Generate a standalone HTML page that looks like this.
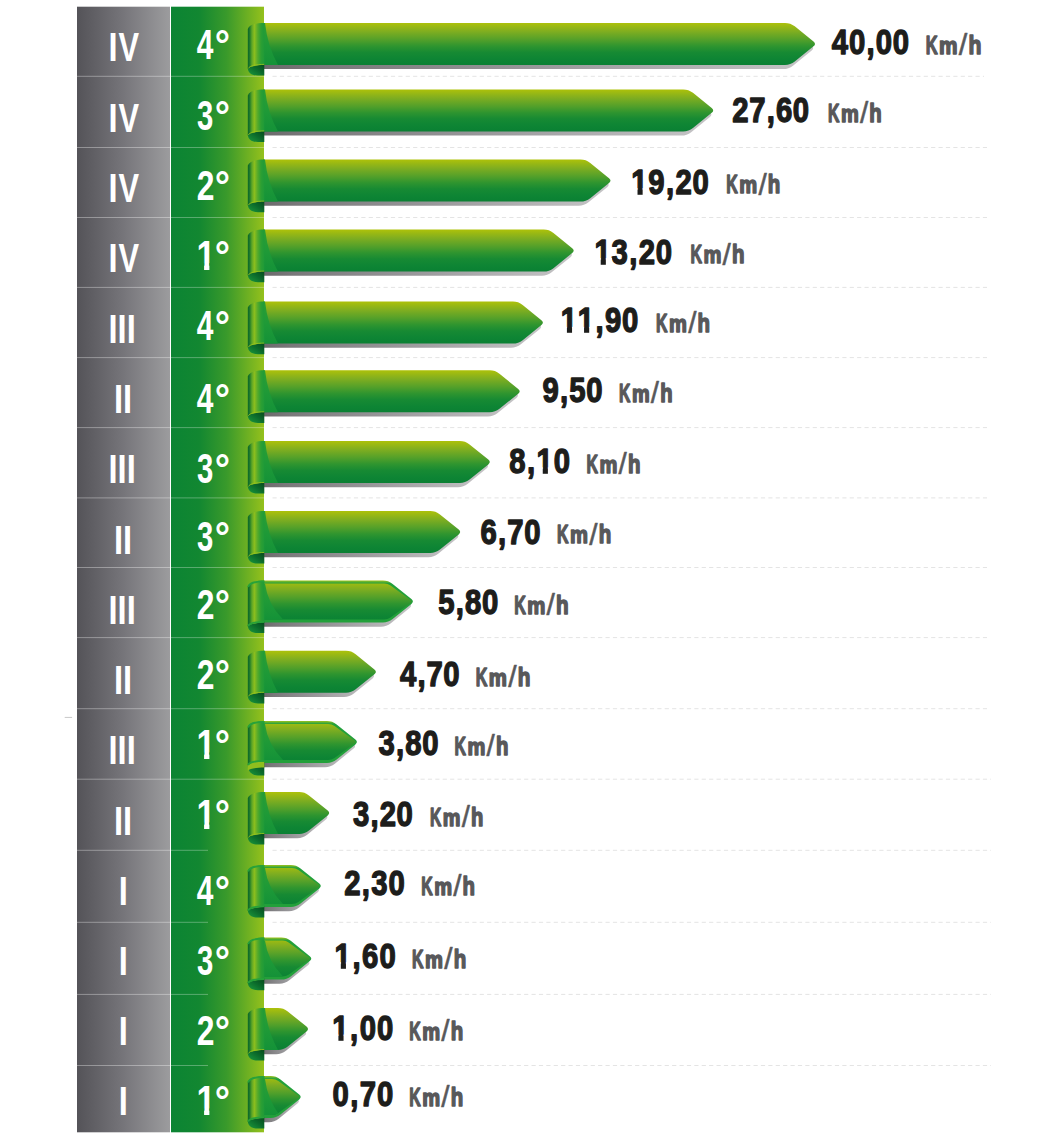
<!DOCTYPE html>
<html><head><meta charset="utf-8"><title>Velocità trattore</title>
<style>
html,body{margin:0;padding:0;background:#fff;}
body{width:1046px;height:1141px;overflow:hidden;}
svg{display:block;}
text{font-family:"Liberation Sans",Arial,sans-serif;font-weight:bold;}
</style></head><body>
<svg width="1046" height="1141" viewBox="0 0 1046 1141">
<defs>
<linearGradient id="gGray" gradientUnits="userSpaceOnUse" x1="77" x2="170" y1="0" y2="0">
<stop offset="0" stop-color="#545358"/><stop offset="0.5" stop-color="#76757a"/><stop offset="1" stop-color="#9c9c9e"/>
</linearGradient>
<linearGradient id="gGreen" gradientUnits="userSpaceOnUse" x1="171" x2="264" y1="0" y2="0">
<stop offset="0" stop-color="#0b8433"/><stop offset="0.3" stop-color="#128731"/><stop offset="0.6" stop-color="#3a9a2b"/><stop offset="1" stop-color="#95c11c"/>
</linearGradient>
<linearGradient id="gCurl" x1="0" x2="1" y1="0" y2="0">
<stop offset="0" stop-color="#0a6428"/><stop offset="0.12" stop-color="#1f7d2a"/><stop offset="0.25" stop-color="#5ea626"/><stop offset="0.4" stop-color="#8cbe1e"/><stop offset="0.6" stop-color="#55aa2b"/><stop offset="0.8" stop-color="#2c9f33"/><stop offset="1" stop-color="#1f9a38"/>
</linearGradient>
<linearGradient id="gRoll" x1="1" x2="0" y1="0" y2="1">
<stop offset="0" stop-color="#06481c"/><stop offset="0.45" stop-color="#0b6a2b"/><stop offset="1" stop-color="#1b9b3c"/>
</linearGradient>
<linearGradient id="gFold" x1="0" x2="0" y1="0" y2="1">
<stop offset="0" stop-color="#2c9f33"/><stop offset="0.5" stop-color="#1f9a37"/><stop offset="1" stop-color="#149238"/>
</linearGradient>
<linearGradient id="gShadow" x1="0" x2="1" y1="0" y2="0">
<stop offset="0" stop-color="#6b696b"/><stop offset="0.1" stop-color="#79787a"/><stop offset="0.45" stop-color="#959497"/><stop offset="1" stop-color="#c6c5c7"/>
</linearGradient>
</defs>

<rect x="64.7" y="716.9" width="7.4" height="1" fill="#c8c8c8"/>
<rect x="77" y="6.7" width="93" height="1125.6" fill="url(#gGray)"/>
<rect x="171" y="6.7" width="93" height="1125.6" fill="url(#gGreen)"/>
<rect x="77" y="75.8" width="93" height="1" fill="#fff" fill-opacity="0.35"/>
<rect x="171" y="75.8" width="93" height="1" fill="#fff" fill-opacity="0.3"/>
<line x1="272.5" x2="984" y1="76.3" y2="76.3" stroke="#e4e4e4" stroke-width="1" stroke-dasharray="4.2 3.2"/>
<rect x="77" y="147.0" width="93" height="1" fill="#fff" fill-opacity="0.35"/>
<rect x="171" y="147.0" width="93" height="1" fill="#fff" fill-opacity="0.3"/>
<line x1="272.5" x2="987" y1="147.5" y2="147.5" stroke="#e4e4e4" stroke-width="1" stroke-dasharray="4.2 3.2"/>
<rect x="77" y="217.0" width="93" height="1" fill="#fff" fill-opacity="0.35"/>
<rect x="171" y="217.0" width="93" height="1" fill="#fff" fill-opacity="0.3"/>
<line x1="272.5" x2="987" y1="217.5" y2="217.5" stroke="#e4e4e4" stroke-width="1" stroke-dasharray="4.2 3.2"/>
<rect x="77" y="286.9" width="93" height="1" fill="#fff" fill-opacity="0.35"/>
<rect x="171" y="286.9" width="93" height="1" fill="#fff" fill-opacity="0.3"/>
<line x1="272.5" x2="987" y1="287.4" y2="287.4" stroke="#e4e4e4" stroke-width="1" stroke-dasharray="4.2 3.2"/>
<rect x="77" y="357.1" width="93" height="1" fill="#fff" fill-opacity="0.35"/>
<rect x="171" y="357.1" width="93" height="1" fill="#fff" fill-opacity="0.3"/>
<line x1="272.5" x2="987" y1="357.6" y2="357.6" stroke="#e4e4e4" stroke-width="1" stroke-dasharray="4.2 3.2"/>
<rect x="77" y="427.1" width="93" height="1" fill="#fff" fill-opacity="0.35"/>
<rect x="171" y="427.1" width="93" height="1" fill="#fff" fill-opacity="0.3"/>
<line x1="272.5" x2="987" y1="427.6" y2="427.6" stroke="#e4e4e4" stroke-width="1" stroke-dasharray="4.2 3.2"/>
<rect x="77" y="497.4" width="93" height="1" fill="#fff" fill-opacity="0.35"/>
<rect x="171" y="497.4" width="93" height="1" fill="#fff" fill-opacity="0.3"/>
<line x1="272.5" x2="987" y1="497.9" y2="497.9" stroke="#e4e4e4" stroke-width="1" stroke-dasharray="4.2 3.2"/>
<rect x="77" y="567.0" width="93" height="1" fill="#fff" fill-opacity="0.35"/>
<rect x="171" y="567.0" width="93" height="1" fill="#fff" fill-opacity="0.3"/>
<line x1="272.5" x2="987" y1="567.5" y2="567.5" stroke="#e4e4e4" stroke-width="1" stroke-dasharray="4.2 3.2"/>
<rect x="77" y="637.1" width="93" height="1" fill="#fff" fill-opacity="0.35"/>
<rect x="171" y="637.1" width="93" height="1" fill="#fff" fill-opacity="0.3"/>
<line x1="272.5" x2="987" y1="637.6" y2="637.6" stroke="#e4e4e4" stroke-width="1" stroke-dasharray="4.2 3.2"/>
<rect x="77" y="708.2" width="93" height="1" fill="#fff" fill-opacity="0.35"/>
<rect x="171" y="708.2" width="93" height="1" fill="#fff" fill-opacity="0.3"/>
<line x1="272.5" x2="987" y1="708.7" y2="708.7" stroke="#e4e4e4" stroke-width="1" stroke-dasharray="4.2 3.2"/>
<rect x="77" y="778.7" width="93" height="1" fill="#fff" fill-opacity="0.35"/>
<rect x="171" y="778.7" width="93" height="1" fill="#fff" fill-opacity="0.3"/>
<line x1="272.5" x2="991" y1="779.2" y2="779.2" stroke="#e4e4e4" stroke-width="1" stroke-dasharray="4.2 3.2"/>
<rect x="77" y="849.8" width="93" height="1" fill="#fff" fill-opacity="0.35"/>
<rect x="171" y="849.8" width="37" height="1" fill="#fff" fill-opacity="0.3"/>
<line x1="272.5" x2="991" y1="850.3" y2="850.3" stroke="#e4e4e4" stroke-width="1" stroke-dasharray="4.2 3.2"/>
<rect x="77" y="921.8" width="93" height="1" fill="#fff" fill-opacity="0.35"/>
<rect x="171" y="921.8" width="37" height="1" fill="#fff" fill-opacity="0.3"/>
<line x1="272.5" x2="991" y1="922.3" y2="922.3" stroke="#e4e4e4" stroke-width="1" stroke-dasharray="4.2 3.2"/>
<rect x="77" y="993.9" width="93" height="1" fill="#fff" fill-opacity="0.35"/>
<rect x="171" y="993.9" width="37" height="1" fill="#fff" fill-opacity="0.3"/>
<line x1="272.5" x2="991" y1="994.4" y2="994.4" stroke="#e4e4e4" stroke-width="1" stroke-dasharray="4.2 3.2"/>
<rect x="77" y="1065.0" width="93" height="1" fill="#fff" fill-opacity="0.35"/>
<rect x="171" y="1065.0" width="37" height="1" fill="#fff" fill-opacity="0.3"/>
<line x1="272.5" x2="991" y1="1065.5" y2="1065.5" stroke="#e4e4e4" stroke-width="1" stroke-dasharray="4.2 3.2"/>
<path d="M262.00,27.10 L783.18,27.10 Q788.68,27.10 792.96,30.56 L811.72,45.71 Q814.68,48.10 811.72,50.49 L792.96,65.64 Q788.68,69.10 783.18,69.10 L262.00,69.10 Z" fill="url(#gShadow)"/>
<linearGradient id="gb0" x1="0" x2="0" y1="22.90" y2="64.90" gradientUnits="userSpaceOnUse"><stop offset="0" stop-color="#adc10a"/><stop offset="0.2" stop-color="#80ae20"/><stop offset="0.4" stop-color="#53a02a"/><stop offset="0.55" stop-color="#2f952f"/><stop offset="0.7" stop-color="#178a33"/><stop offset="0.85" stop-color="#0e8534"/><stop offset="1" stop-color="#0a8033"/></linearGradient>
<path d="M262.00,22.90 L784.98,22.90 Q790.48,22.90 794.76,26.36 L813.52,41.51 Q816.48,43.90 813.52,46.29 L794.76,61.44 Q790.48,64.90 784.98,64.90 L262.00,64.90 Z" fill="url(#gb0)"/>
<path d="M263,22.90 L265,22.90 Q267.50,46.00 278.00,64.90 L263,64.90 Z" fill="url(#gFold)"/>
<path d="M247.8,67.40 C247.8,73.40 252.30,75.50 257.80,75.50 L264.3,75.50 L264.3,63.90 Z" fill="url(#gRoll)"/>
<path d="M264.3,22.90 C256,22.90 249.30,24.40 247.8,28.90 L247.8,68.90 C249.80,66.10 256,64.90 264.3,64.90 Z" fill="url(#gCurl)"/>
<path d="M248.30,68.40 C249.80,65.60 256,64.40 264.3,64.40" fill="none" stroke="#9cc41a" stroke-width="1" stroke-opacity="0.8"/>
<path d="M262.00,93.60 L681.38,93.60 Q686.88,93.60 691.16,97.06 L709.92,112.21 Q712.88,114.60 709.92,116.99 L691.16,132.14 Q686.88,135.60 681.38,135.60 L262.00,135.60 Z" fill="url(#gShadow)"/>
<linearGradient id="gb1" x1="0" x2="0" y1="89.40" y2="131.40" gradientUnits="userSpaceOnUse"><stop offset="0" stop-color="#adc10a"/><stop offset="0.2" stop-color="#80ae20"/><stop offset="0.4" stop-color="#53a02a"/><stop offset="0.55" stop-color="#2f952f"/><stop offset="0.7" stop-color="#178a33"/><stop offset="0.85" stop-color="#0e8534"/><stop offset="1" stop-color="#0a8033"/></linearGradient>
<path d="M262.00,89.40 L683.18,89.40 Q688.68,89.40 692.96,92.86 L711.72,108.01 Q714.68,110.40 711.72,112.79 L692.96,127.94 Q688.68,131.40 683.18,131.40 L262.00,131.40 Z" fill="url(#gb1)"/>
<path d="M263,89.40 L265,89.40 Q267.50,112.50 278.00,131.40 L263,131.40 Z" fill="url(#gFold)"/>
<path d="M247.8,133.90 C247.8,139.90 252.30,142.00 257.80,142.00 L264.3,142.00 L264.3,130.40 Z" fill="url(#gRoll)"/>
<path d="M264.3,89.40 C256,89.40 249.30,90.90 247.8,95.40 L247.8,135.40 C249.80,132.60 256,131.40 264.3,131.40 Z" fill="url(#gCurl)"/>
<path d="M248.30,134.90 C249.80,132.10 256,130.90 264.3,130.90" fill="none" stroke="#9cc41a" stroke-width="1" stroke-opacity="0.8"/>
<path d="M262.00,163.80 L578.68,163.80 Q584.18,163.80 588.46,167.26 L607.22,182.41 Q610.18,184.80 607.22,187.19 L588.46,202.34 Q584.18,205.80 578.68,205.80 L262.00,205.80 Z" fill="url(#gShadow)"/>
<linearGradient id="gb2" x1="0" x2="0" y1="159.60" y2="201.60" gradientUnits="userSpaceOnUse"><stop offset="0" stop-color="#adc10a"/><stop offset="0.2" stop-color="#80ae20"/><stop offset="0.4" stop-color="#53a02a"/><stop offset="0.55" stop-color="#2f952f"/><stop offset="0.7" stop-color="#178a33"/><stop offset="0.85" stop-color="#0e8534"/><stop offset="1" stop-color="#0a8033"/></linearGradient>
<path d="M262.00,159.60 L580.48,159.60 Q585.98,159.60 590.26,163.06 L609.02,178.21 Q611.98,180.60 609.02,182.99 L590.26,198.14 Q585.98,201.60 580.48,201.60 L262.00,201.60 Z" fill="url(#gb2)"/>
<path d="M263,159.60 L265,159.60 Q267.50,182.70 278.00,201.60 L263,201.60 Z" fill="url(#gFold)"/>
<path d="M247.8,204.10 C247.8,210.10 252.30,212.20 257.80,212.20 L264.3,212.20 L264.3,200.60 Z" fill="url(#gRoll)"/>
<path d="M264.3,159.60 C256,159.60 249.30,161.10 247.8,165.60 L247.8,205.60 C249.80,202.80 256,201.60 264.3,201.60 Z" fill="url(#gCurl)"/>
<path d="M248.30,205.10 C249.80,202.30 256,201.10 264.3,201.10" fill="none" stroke="#9cc41a" stroke-width="1" stroke-opacity="0.8"/>
<path d="M262.00,233.80 L541.88,233.80 Q547.38,233.80 551.66,237.26 L570.42,252.41 Q573.38,254.80 570.42,257.19 L551.66,272.34 Q547.38,275.80 541.88,275.80 L262.00,275.80 Z" fill="url(#gShadow)"/>
<linearGradient id="gb3" x1="0" x2="0" y1="229.60" y2="271.60" gradientUnits="userSpaceOnUse"><stop offset="0" stop-color="#adc10a"/><stop offset="0.2" stop-color="#80ae20"/><stop offset="0.4" stop-color="#53a02a"/><stop offset="0.55" stop-color="#2f952f"/><stop offset="0.7" stop-color="#178a33"/><stop offset="0.85" stop-color="#0e8534"/><stop offset="1" stop-color="#0a8033"/></linearGradient>
<path d="M262.00,229.60 L543.68,229.60 Q549.18,229.60 553.46,233.06 L572.22,248.21 Q575.18,250.60 572.22,252.99 L553.46,268.14 Q549.18,271.60 543.68,271.60 L262.00,271.60 Z" fill="url(#gb3)"/>
<path d="M263,229.60 L265,229.60 Q267.50,252.70 278.00,271.60 L263,271.60 Z" fill="url(#gFold)"/>
<path d="M247.8,274.10 C247.8,280.10 252.30,282.20 257.80,282.20 L264.3,282.20 L264.3,270.60 Z" fill="url(#gRoll)"/>
<path d="M264.3,229.60 C256,229.60 249.30,231.10 247.8,235.60 L247.8,275.60 C249.80,272.80 256,271.60 264.3,271.60 Z" fill="url(#gCurl)"/>
<path d="M248.30,275.10 C249.80,272.30 256,271.10 264.3,271.10" fill="none" stroke="#9cc41a" stroke-width="1" stroke-opacity="0.8"/>
<path d="M262.00,305.80 L511.08,305.80 Q516.58,305.80 520.86,309.26 L539.62,324.41 Q542.58,326.80 539.62,329.19 L520.86,344.34 Q516.58,347.80 511.08,347.80 L262.00,347.80 Z" fill="url(#gShadow)"/>
<linearGradient id="gb4" x1="0" x2="0" y1="301.60" y2="343.60" gradientUnits="userSpaceOnUse"><stop offset="0" stop-color="#adc10a"/><stop offset="0.2" stop-color="#80ae20"/><stop offset="0.4" stop-color="#53a02a"/><stop offset="0.55" stop-color="#2f952f"/><stop offset="0.7" stop-color="#178a33"/><stop offset="0.85" stop-color="#0e8534"/><stop offset="1" stop-color="#0a8033"/></linearGradient>
<path d="M262.00,301.60 L512.88,301.60 Q518.38,301.60 522.66,305.06 L541.42,320.21 Q544.38,322.60 541.42,324.99 L522.66,340.14 Q518.38,343.60 512.88,343.60 L262.00,343.60 Z" fill="url(#gb4)"/>
<path d="M263,301.60 L265,301.60 Q267.50,324.70 278.00,343.60 L263,343.60 Z" fill="url(#gFold)"/>
<path d="M247.8,346.10 C247.8,352.10 252.30,354.20 257.80,354.20 L264.3,354.20 L264.3,342.60 Z" fill="url(#gRoll)"/>
<path d="M264.3,301.60 C256,301.60 249.30,303.10 247.8,307.60 L247.8,347.60 C249.80,344.80 256,343.60 264.3,343.60 Z" fill="url(#gCurl)"/>
<path d="M248.30,347.10 C249.80,344.30 256,343.10 264.3,343.10" fill="none" stroke="#9cc41a" stroke-width="1" stroke-opacity="0.8"/>
<path d="M262.00,374.50 L487.88,374.50 Q493.38,374.50 497.66,377.96 L516.42,393.11 Q519.38,395.50 516.42,397.89 L497.66,413.04 Q493.38,416.50 487.88,416.50 L262.00,416.50 Z" fill="url(#gShadow)"/>
<linearGradient id="gb5" x1="0" x2="0" y1="370.30" y2="412.30" gradientUnits="userSpaceOnUse"><stop offset="0" stop-color="#adc10a"/><stop offset="0.2" stop-color="#80ae20"/><stop offset="0.4" stop-color="#53a02a"/><stop offset="0.55" stop-color="#2f952f"/><stop offset="0.7" stop-color="#178a33"/><stop offset="0.85" stop-color="#0e8534"/><stop offset="1" stop-color="#0a8033"/></linearGradient>
<path d="M262.00,370.30 L489.68,370.30 Q495.18,370.30 499.46,373.76 L518.22,388.91 Q521.18,391.30 518.22,393.69 L499.46,408.84 Q495.18,412.30 489.68,412.30 L262.00,412.30 Z" fill="url(#gb5)"/>
<path d="M263,370.30 L265,370.30 Q267.50,393.40 278.00,412.30 L263,412.30 Z" fill="url(#gFold)"/>
<path d="M247.8,414.80 C247.8,420.80 252.30,422.90 257.80,422.90 L264.3,422.90 L264.3,411.30 Z" fill="url(#gRoll)"/>
<path d="M264.3,370.30 C256,370.30 249.30,371.80 247.8,376.30 L247.8,416.30 C249.80,413.50 256,412.30 264.3,412.30 Z" fill="url(#gCurl)"/>
<path d="M248.30,415.80 C249.80,413.00 256,411.80 264.3,411.80" fill="none" stroke="#9cc41a" stroke-width="1" stroke-opacity="0.8"/>
<path d="M262.00,445.20 L457.98,445.20 Q463.48,445.20 467.76,448.66 L486.52,463.81 Q489.48,466.20 486.52,468.59 L467.76,483.74 Q463.48,487.20 457.98,487.20 L262.00,487.20 Z" fill="url(#gShadow)"/>
<linearGradient id="gb6" x1="0" x2="0" y1="441.00" y2="483.00" gradientUnits="userSpaceOnUse"><stop offset="0" stop-color="#adc10a"/><stop offset="0.2" stop-color="#80ae20"/><stop offset="0.4" stop-color="#53a02a"/><stop offset="0.55" stop-color="#2f952f"/><stop offset="0.7" stop-color="#178a33"/><stop offset="0.85" stop-color="#0e8534"/><stop offset="1" stop-color="#0a8033"/></linearGradient>
<path d="M262.00,441.00 L459.78,441.00 Q465.28,441.00 469.56,444.46 L488.32,459.61 Q491.28,462.00 488.32,464.39 L469.56,479.54 Q465.28,483.00 459.78,483.00 L262.00,483.00 Z" fill="url(#gb6)"/>
<path d="M263,441.00 L265,441.00 Q267.50,464.10 278.00,483.00 L263,483.00 Z" fill="url(#gFold)"/>
<path d="M247.8,485.50 C247.8,491.50 252.30,493.60 257.80,493.60 L264.3,493.60 L264.3,482.00 Z" fill="url(#gRoll)"/>
<path d="M264.3,441.00 C256,441.00 249.30,442.50 247.8,447.00 L247.8,487.00 C249.80,484.20 256,483.00 264.3,483.00 Z" fill="url(#gCurl)"/>
<path d="M248.30,486.50 C249.80,483.70 256,482.50 264.3,482.50" fill="none" stroke="#9cc41a" stroke-width="1" stroke-opacity="0.8"/>
<path d="M262.00,515.20 L428.38,515.20 Q433.88,515.20 438.16,518.66 L456.92,533.81 Q459.88,536.20 456.92,538.59 L438.16,553.74 Q433.88,557.20 428.38,557.20 L262.00,557.20 Z" fill="url(#gShadow)"/>
<linearGradient id="gb7" x1="0" x2="0" y1="511.00" y2="553.00" gradientUnits="userSpaceOnUse"><stop offset="0" stop-color="#adc10a"/><stop offset="0.2" stop-color="#80ae20"/><stop offset="0.4" stop-color="#53a02a"/><stop offset="0.55" stop-color="#2f952f"/><stop offset="0.7" stop-color="#178a33"/><stop offset="0.85" stop-color="#0e8534"/><stop offset="1" stop-color="#0a8033"/></linearGradient>
<path d="M262.00,511.00 L430.18,511.00 Q435.68,511.00 439.96,514.46 L458.72,529.61 Q461.68,532.00 458.72,534.39 L439.96,549.54 Q435.68,553.00 430.18,553.00 L262.00,553.00 Z" fill="url(#gb7)"/>
<path d="M263,511.00 L265,511.00 Q267.50,534.10 278.00,553.00 L263,553.00 Z" fill="url(#gFold)"/>
<path d="M247.8,555.50 C247.8,561.50 252.30,563.60 257.80,563.60 L264.3,563.60 L264.3,552.00 Z" fill="url(#gRoll)"/>
<path d="M264.3,511.00 C256,511.00 249.30,512.50 247.8,517.00 L247.8,557.00 C249.80,554.20 256,553.00 264.3,553.00 Z" fill="url(#gCurl)"/>
<path d="M248.30,556.50 C249.80,553.70 256,552.50 264.3,552.50" fill="none" stroke="#9cc41a" stroke-width="1" stroke-opacity="0.8"/>
<path d="M262.00,584.70 L381.08,584.70 Q386.58,584.70 390.86,588.16 L409.62,603.31 Q412.58,605.70 409.62,608.09 L390.86,623.24 Q386.58,626.70 381.08,626.70 L262.00,626.70 Z" fill="url(#gShadow)"/>
<linearGradient id="gb8" x1="0" x2="0" y1="580.50" y2="622.50" gradientUnits="userSpaceOnUse"><stop offset="0" stop-color="#adc10a"/><stop offset="0.2" stop-color="#80ae20"/><stop offset="0.4" stop-color="#53a02a"/><stop offset="0.55" stop-color="#2f952f"/><stop offset="0.7" stop-color="#178a33"/><stop offset="0.85" stop-color="#0e8534"/><stop offset="1" stop-color="#0a8033"/></linearGradient>
<path d="M262.00,580.50 L382.88,580.50 Q388.38,580.50 392.66,583.96 L411.42,599.11 Q414.38,601.50 411.42,603.89 L392.66,619.04 Q388.38,622.50 382.88,622.50 L262.00,622.50 Z" fill="url(#gStroke8)"/>
<linearGradient id="gStroke8" x1="0" x2="0" y1="580.50" y2="622.50" gradientUnits="userSpaceOnUse"><stop offset="0" stop-color="#9ec31a"/><stop offset="0.035" stop-color="#5cb032"/><stop offset="0.07" stop-color="#22a03a"/><stop offset="1" stop-color="#22a03a"/></linearGradient>
<path d="M262.00,583.50 L384.21,583.50 Q387.71,583.50 390.54,585.56 L410.89,600.33 Q412.51,601.50 410.89,602.67 L390.54,617.44 Q387.71,619.50 384.21,619.50 L262.00,619.50 Z" fill="url(#gb8)"/>
<clipPath id="cb8"><path d="M262.00,583.50 L384.21,583.50 Q387.71,583.50 390.54,585.56 L410.89,600.33 Q412.51,601.50 410.89,602.67 L390.54,617.44 Q387.71,619.50 384.21,619.50 L262.00,619.50 Z"/></clipPath>
<path d="M263,583.50 L265,583.50 Q267.50,603.60 283.00,619.50 L263,619.50 Z" fill="url(#gFold)" clip-path="url(#cb8)"/>
<path d="M247.8,625.00 C247.8,631.00 252.30,633.10 257.80,633.10 L264.3,633.10 L264.3,621.50 Z" fill="url(#gRoll)"/>
<path d="M264.3,580.50 C256,580.50 249.30,582.00 247.8,586.50 L247.8,626.50 C249.80,623.70 256,622.50 264.3,622.50 Z" fill="url(#gCurl)"/>
<path d="M264.3,581.40 C256,581.40 249.30,582.90 248.10,587.00" fill="none" stroke="#27a23a" stroke-width="1.9"/>
<path d="M248.10,625.90 C249.80,623.10 256,621.90 264.3,621.90" fill="none" stroke="#27a23a" stroke-width="1.9"/>
<path d="M262.00,655.00 L344.08,655.00 Q349.58,655.00 353.86,658.46 L372.62,673.61 Q375.58,676.00 372.62,678.39 L353.86,693.54 Q349.58,697.00 344.08,697.00 L262.00,697.00 Z" fill="url(#gShadow)"/>
<linearGradient id="gb9" x1="0" x2="0" y1="650.80" y2="692.80" gradientUnits="userSpaceOnUse"><stop offset="0" stop-color="#adc10a"/><stop offset="0.2" stop-color="#80ae20"/><stop offset="0.4" stop-color="#53a02a"/><stop offset="0.55" stop-color="#2f952f"/><stop offset="0.7" stop-color="#178a33"/><stop offset="0.85" stop-color="#0e8534"/><stop offset="1" stop-color="#0a8033"/></linearGradient>
<path d="M262.00,650.80 L345.88,650.80 Q351.38,650.80 355.66,654.26 L374.42,669.41 Q377.38,671.80 374.42,674.19 L355.66,689.34 Q351.38,692.80 345.88,692.80 L262.00,692.80 Z" fill="url(#gb9)"/>
<path d="M263,650.80 L265,650.80 Q267.50,673.90 278.00,692.80 L263,692.80 Z" fill="url(#gFold)"/>
<path d="M247.8,695.30 C247.8,701.30 252.30,703.40 257.80,703.40 L264.3,703.40 L264.3,691.80 Z" fill="url(#gRoll)"/>
<path d="M264.3,650.80 C256,650.80 249.30,652.30 247.8,656.80 L247.8,696.80 C249.80,694.00 256,692.80 264.3,692.80 Z" fill="url(#gCurl)"/>
<path d="M248.30,696.30 C249.80,693.50 256,692.30 264.3,692.30" fill="none" stroke="#9cc41a" stroke-width="1" stroke-opacity="0.8"/>
<path d="M262.00,725.20 L325.08,725.20 Q330.58,725.20 334.86,728.66 L353.62,743.81 Q356.58,746.20 353.62,748.59 L334.86,763.74 Q330.58,767.20 325.08,767.20 L262.00,767.20 Z" fill="url(#gShadow)"/>
<linearGradient id="gb10" x1="0" x2="0" y1="721.00" y2="763.00" gradientUnits="userSpaceOnUse"><stop offset="0" stop-color="#adc10a"/><stop offset="0.2" stop-color="#80ae20"/><stop offset="0.4" stop-color="#53a02a"/><stop offset="0.55" stop-color="#2f952f"/><stop offset="0.7" stop-color="#178a33"/><stop offset="0.85" stop-color="#0e8534"/><stop offset="1" stop-color="#0a8033"/></linearGradient>
<path d="M262.00,721.00 L326.88,721.00 Q332.38,721.00 336.66,724.46 L355.42,739.61 Q358.38,742.00 355.42,744.39 L336.66,759.54 Q332.38,763.00 326.88,763.00 L262.00,763.00 Z" fill="url(#gStroke10)"/>
<linearGradient id="gStroke10" x1="0" x2="0" y1="721.00" y2="763.00" gradientUnits="userSpaceOnUse"><stop offset="0" stop-color="#9ec31a"/><stop offset="0.035" stop-color="#5cb032"/><stop offset="0.07" stop-color="#22a03a"/><stop offset="1" stop-color="#22a03a"/></linearGradient>
<path d="M262.00,724.00 L328.21,724.00 Q331.71,724.00 334.54,726.06 L354.89,740.83 Q356.51,742.00 354.89,743.17 L334.54,757.94 Q331.71,760.00 328.21,760.00 L262.00,760.00 Z" fill="url(#gb10)"/>
<clipPath id="cb10"><path d="M262.00,724.00 L328.21,724.00 Q331.71,724.00 334.54,726.06 L354.89,740.83 Q356.51,742.00 354.89,743.17 L334.54,757.94 Q331.71,760.00 328.21,760.00 L262.00,760.00 Z"/></clipPath>
<path d="M263,724.00 L265,724.00 Q267.50,744.10 283.00,760.00 L263,760.00 Z" fill="url(#gFold)" clip-path="url(#cb10)"/>
<path d="M247.8,765.50 C247.8,771.50 252.30,775.50 257.80,775.50 L264.3,775.50 L264.3,762.00 Z" fill="url(#gRoll)"/>
<path d="M247.8,765.00 C249.80,762.00 256,761.50 264.3,761.50 L264.3,767.50 C256,767.50 249.80,768.50 247.8,770.50 Z" fill="#8fbe1e"/>
<path d="M264.3,721.00 C256,721.00 249.30,722.50 247.8,727.00 L247.8,765.50 C249.80,762.70 256,761.50 264.3,761.50 Z" fill="url(#gCurl)"/>
<path d="M264.3,721.90 C256,721.90 249.30,723.40 248.10,727.50" fill="none" stroke="#27a23a" stroke-width="1.9"/>
<path d="M248.10,764.90 C249.80,762.10 256,760.90 264.3,760.90" fill="none" stroke="#27a23a" stroke-width="1.9"/>
<path d="M262.00,796.20 L297.38,796.20 Q302.88,796.20 307.16,799.66 L325.92,814.81 Q328.88,817.20 325.92,819.59 L307.16,834.74 Q302.88,838.20 297.38,838.20 L262.00,838.20 Z" fill="url(#gShadow)"/>
<linearGradient id="gb11" x1="0" x2="0" y1="792.00" y2="834.00" gradientUnits="userSpaceOnUse"><stop offset="0" stop-color="#adc10a"/><stop offset="0.2" stop-color="#80ae20"/><stop offset="0.4" stop-color="#53a02a"/><stop offset="0.55" stop-color="#2f952f"/><stop offset="0.7" stop-color="#178a33"/><stop offset="0.85" stop-color="#0e8534"/><stop offset="1" stop-color="#0a8033"/></linearGradient>
<path d="M262.00,792.00 L299.18,792.00 Q304.68,792.00 308.96,795.46 L327.72,810.61 Q330.68,813.00 327.72,815.39 L308.96,830.54 Q304.68,834.00 299.18,834.00 L262.00,834.00 Z" fill="url(#gb11)"/>
<path d="M263,792.00 L265,792.00 Q267.50,815.10 278.00,834.00 L263,834.00 Z" fill="url(#gFold)"/>
<path d="M247.8,836.50 C247.8,842.50 252.30,844.60 257.80,844.60 L264.3,844.60 L264.3,833.00 Z" fill="url(#gRoll)"/>
<path d="M264.3,792.00 C256,792.00 249.30,793.50 247.8,798.00 L247.8,838.00 C249.80,835.20 256,834.00 264.3,834.00 Z" fill="url(#gCurl)"/>
<path d="M248.30,837.50 C249.80,834.70 256,833.50 264.3,833.50" fill="none" stroke="#9cc41a" stroke-width="1" stroke-opacity="0.8"/>
<path d="M262.00,869.20 L288.98,869.20 Q294.48,869.20 298.76,872.66 L317.52,887.81 Q320.48,890.20 317.52,892.59 L298.76,907.74 Q294.48,911.20 288.98,911.20 L262.00,911.20 Z" fill="url(#gShadow)"/>
<linearGradient id="gb12" x1="0" x2="0" y1="865.00" y2="907.00" gradientUnits="userSpaceOnUse"><stop offset="0" stop-color="#adc10a"/><stop offset="0.2" stop-color="#80ae20"/><stop offset="0.4" stop-color="#53a02a"/><stop offset="0.55" stop-color="#2f952f"/><stop offset="0.7" stop-color="#178a33"/><stop offset="0.85" stop-color="#0e8534"/><stop offset="1" stop-color="#0a8033"/></linearGradient>
<path d="M262.00,865.00 L290.78,865.00 Q296.28,865.00 300.56,868.46 L319.32,883.61 Q322.28,886.00 319.32,888.39 L300.56,903.54 Q296.28,907.00 290.78,907.00 L262.00,907.00 Z" fill="url(#gStroke12)"/>
<linearGradient id="gStroke12" x1="0" x2="0" y1="865.00" y2="907.00" gradientUnits="userSpaceOnUse"><stop offset="0" stop-color="#9ec31a"/><stop offset="0.035" stop-color="#5cb032"/><stop offset="0.07" stop-color="#22a03a"/><stop offset="1" stop-color="#22a03a"/></linearGradient>
<path d="M262.00,868.00 L292.11,868.00 Q295.61,868.00 298.44,870.06 L318.79,884.83 Q320.41,886.00 318.79,887.17 L298.44,901.94 Q295.61,904.00 292.11,904.00 L262.00,904.00 Z" fill="url(#gb12)"/>
<clipPath id="cb12"><path d="M262.00,868.00 L292.11,868.00 Q295.61,868.00 298.44,870.06 L318.79,884.83 Q320.41,886.00 318.79,887.17 L298.44,901.94 Q295.61,904.00 292.11,904.00 L262.00,904.00 Z"/></clipPath>
<path d="M263,868.00 L265,868.00 Q267.50,888.10 283.00,904.00 L263,904.00 Z" fill="url(#gFold)" clip-path="url(#cb12)"/>
<path d="M247.8,909.50 C247.8,915.50 252.30,917.60 257.80,917.60 L264.3,917.60 L264.3,906.00 Z" fill="url(#gRoll)"/>
<path d="M264.3,865.00 C256,865.00 249.30,866.50 247.8,871.00 L247.8,911.00 C249.80,908.20 256,907.00 264.3,907.00 Z" fill="url(#gCurl)"/>
<path d="M264.3,865.90 C256,865.90 249.30,867.40 248.10,871.50" fill="none" stroke="#27a23a" stroke-width="1.9"/>
<path d="M248.10,910.40 C249.80,907.60 256,906.40 264.3,906.40" fill="none" stroke="#27a23a" stroke-width="1.9"/>
<path d="M262.00,941.80 L279.48,941.80 Q284.98,941.80 289.26,945.26 L308.02,960.41 Q310.98,962.80 308.02,965.19 L289.26,980.34 Q284.98,983.80 279.48,983.80 L262.00,983.80 Z" fill="url(#gShadow)"/>
<linearGradient id="gb13" x1="0" x2="0" y1="937.60" y2="979.60" gradientUnits="userSpaceOnUse"><stop offset="0" stop-color="#adc10a"/><stop offset="0.2" stop-color="#80ae20"/><stop offset="0.4" stop-color="#53a02a"/><stop offset="0.55" stop-color="#2f952f"/><stop offset="0.7" stop-color="#178a33"/><stop offset="0.85" stop-color="#0e8534"/><stop offset="1" stop-color="#0a8033"/></linearGradient>
<path d="M262.00,937.60 L281.28,937.60 Q286.78,937.60 291.06,941.06 L309.82,956.21 Q312.78,958.60 309.82,960.99 L291.06,976.14 Q286.78,979.60 281.28,979.60 L262.00,979.60 Z" fill="url(#gStroke13)"/>
<linearGradient id="gStroke13" x1="0" x2="0" y1="937.60" y2="979.60" gradientUnits="userSpaceOnUse"><stop offset="0" stop-color="#9ec31a"/><stop offset="0.035" stop-color="#5cb032"/><stop offset="0.07" stop-color="#22a03a"/><stop offset="1" stop-color="#22a03a"/></linearGradient>
<path d="M262.00,940.60 L282.61,940.60 Q286.11,940.60 288.94,942.66 L309.29,957.43 Q310.91,958.60 309.29,959.77 L288.94,974.54 Q286.11,976.60 282.61,976.60 L262.00,976.60 Z" fill="url(#gb13)"/>
<clipPath id="cb13"><path d="M262.00,940.60 L282.61,940.60 Q286.11,940.60 288.94,942.66 L309.29,957.43 Q310.91,958.60 309.29,959.77 L288.94,974.54 Q286.11,976.60 282.61,976.60 L262.00,976.60 Z"/></clipPath>
<path d="M263,940.60 L265,940.60 Q267.50,960.70 283.00,976.60 L263,976.60 Z" fill="url(#gFold)" clip-path="url(#cb13)"/>
<path d="M247.8,982.10 C247.8,988.10 252.30,990.20 257.80,990.20 L264.3,990.20 L264.3,978.60 Z" fill="url(#gRoll)"/>
<path d="M264.3,937.60 C256,937.60 249.30,939.10 247.8,943.60 L247.8,983.60 C249.80,980.80 256,979.60 264.3,979.60 Z" fill="url(#gCurl)"/>
<path d="M264.3,938.50 C256,938.50 249.30,940.00 248.10,944.10" fill="none" stroke="#27a23a" stroke-width="1.9"/>
<path d="M248.10,983.00 C249.80,980.20 256,979.00 264.3,979.00" fill="none" stroke="#27a23a" stroke-width="1.9"/>
<path d="M262.00,1012.20 L276.18,1012.20 Q281.68,1012.20 285.96,1015.66 L304.72,1030.81 Q307.68,1033.20 304.72,1035.59 L285.96,1050.74 Q281.68,1054.20 276.18,1054.20 L262.00,1054.20 Z" fill="url(#gShadow)"/>
<linearGradient id="gb14" x1="0" x2="0" y1="1008.00" y2="1050.00" gradientUnits="userSpaceOnUse"><stop offset="0" stop-color="#adc10a"/><stop offset="0.2" stop-color="#80ae20"/><stop offset="0.4" stop-color="#53a02a"/><stop offset="0.55" stop-color="#2f952f"/><stop offset="0.7" stop-color="#178a33"/><stop offset="0.85" stop-color="#0e8534"/><stop offset="1" stop-color="#0a8033"/></linearGradient>
<path d="M262.00,1008.00 L277.98,1008.00 Q283.48,1008.00 287.76,1011.46 L306.52,1026.61 Q309.48,1029.00 306.52,1031.39 L287.76,1046.54 Q283.48,1050.00 277.98,1050.00 L262.00,1050.00 Z" fill="url(#gb14)"/>
<path d="M263,1008.00 L265,1008.00 Q267.50,1031.10 278.00,1050.00 L263,1050.00 Z" fill="url(#gFold)"/>
<path d="M247.8,1052.50 C247.8,1058.50 252.30,1060.60 257.80,1060.60 L264.3,1060.60 L264.3,1049.00 Z" fill="url(#gRoll)"/>
<path d="M264.3,1008.00 C256,1008.00 249.30,1009.50 247.8,1014.00 L247.8,1054.00 C249.80,1051.20 256,1050.00 264.3,1050.00 Z" fill="url(#gCurl)"/>
<path d="M248.30,1053.50 C249.80,1050.70 256,1049.50 264.3,1049.50" fill="none" stroke="#9cc41a" stroke-width="1" stroke-opacity="0.8"/>
<path d="M262.00,1080.20 L268.88,1080.20 Q274.38,1080.20 278.66,1083.66 L297.42,1098.81 Q300.38,1101.20 297.42,1103.59 L278.66,1118.74 Q274.38,1122.20 268.88,1122.20 L262.00,1122.20 Z" fill="url(#gShadow)"/>
<linearGradient id="gb15" x1="0" x2="0" y1="1076.00" y2="1118.00" gradientUnits="userSpaceOnUse"><stop offset="0" stop-color="#adc10a"/><stop offset="0.2" stop-color="#80ae20"/><stop offset="0.4" stop-color="#53a02a"/><stop offset="0.55" stop-color="#2f952f"/><stop offset="0.7" stop-color="#178a33"/><stop offset="0.85" stop-color="#0e8534"/><stop offset="1" stop-color="#0a8033"/></linearGradient>
<path d="M262.00,1076.00 L270.68,1076.00 Q276.18,1076.00 280.46,1079.46 L299.22,1094.61 Q302.18,1097.00 299.22,1099.39 L280.46,1114.54 Q276.18,1118.00 270.68,1118.00 L262.00,1118.00 Z" fill="url(#gStroke15)"/>
<linearGradient id="gStroke15" x1="0" x2="0" y1="1076.00" y2="1118.00" gradientUnits="userSpaceOnUse"><stop offset="0" stop-color="#9ec31a"/><stop offset="0.035" stop-color="#5cb032"/><stop offset="0.07" stop-color="#22a03a"/><stop offset="1" stop-color="#22a03a"/></linearGradient>
<path d="M262.00,1079.00 L272.01,1079.00 Q275.51,1079.00 278.34,1081.06 L298.69,1095.83 Q300.31,1097.00 298.69,1098.17 L278.34,1112.94 Q275.51,1115.00 272.01,1115.00 L262.00,1115.00 Z" fill="url(#gb15)"/>
<clipPath id="cb15"><path d="M262.00,1079.00 L272.01,1079.00 Q275.51,1079.00 278.34,1081.06 L298.69,1095.83 Q300.31,1097.00 298.69,1098.17 L278.34,1112.94 Q275.51,1115.00 272.01,1115.00 L262.00,1115.00 Z"/></clipPath>
<path d="M263,1079.00 L265,1079.00 Q267.50,1099.10 279.41,1115.00 L263,1115.00 Z" fill="url(#gFold)" clip-path="url(#cb15)"/>
<path d="M247.8,1120.50 C247.8,1126.50 252.30,1128.60 257.80,1128.60 L264.3,1128.60 L264.3,1117.00 Z" fill="url(#gRoll)"/>
<path d="M264.3,1076.00 C256,1076.00 249.30,1077.50 247.8,1082.00 L247.8,1122.00 C249.80,1119.20 256,1118.00 264.3,1118.00 Z" fill="url(#gCurl)"/>
<path d="M264.3,1076.90 C256,1076.90 249.30,1078.40 248.10,1082.50" fill="none" stroke="#27a23a" stroke-width="1.9"/>
<path d="M248.10,1121.40 C249.80,1118.60 256,1117.40 264.3,1117.40" fill="none" stroke="#27a23a" stroke-width="1.9"/>
<text y="61.1" font-size="41.30" fill="#fff"><tspan x="108.52" textLength="9.07" lengthAdjust="spacingAndGlyphs">I</tspan><tspan x="118.53" textLength="20.54" lengthAdjust="spacingAndGlyphs">V</tspan></text>
<text y="58.8" font-size="41.59" fill="#fff"><tspan x="196.69" textLength="16.62" lengthAdjust="spacingAndGlyphs">4</tspan><tspan x="214.76" font-size="40.00" textLength="15.26" lengthAdjust="spacingAndGlyphs">°</tspan></text>
<text y="131.8" font-size="41.30" fill="#fff"><tspan x="108.52" textLength="9.07" lengthAdjust="spacingAndGlyphs">I</tspan><tspan x="118.53" textLength="20.54" lengthAdjust="spacingAndGlyphs">V</tspan></text>
<text y="129.5" font-size="41.59" fill="#fff"><tspan x="197.05" textLength="16.26" lengthAdjust="spacingAndGlyphs">3</tspan><tspan x="214.76" font-size="40.00" textLength="15.26" lengthAdjust="spacingAndGlyphs">°</tspan></text>
<text y="201.8" font-size="41.30" fill="#fff"><tspan x="108.52" textLength="9.07" lengthAdjust="spacingAndGlyphs">I</tspan><tspan x="118.53" textLength="20.54" lengthAdjust="spacingAndGlyphs">V</tspan></text>
<text y="199.5" font-size="41.59" fill="#fff"><tspan x="196.64" textLength="17.69" lengthAdjust="spacingAndGlyphs">2</tspan><tspan x="214.76" font-size="40.00" textLength="15.26" lengthAdjust="spacingAndGlyphs">°</tspan></text>
<text y="272.1" font-size="41.30" fill="#fff"><tspan x="108.52" textLength="9.07" lengthAdjust="spacingAndGlyphs">I</tspan><tspan x="118.53" textLength="20.54" lengthAdjust="spacingAndGlyphs">V</tspan></text>
<text y="269.8" font-size="41.59" fill="#fff"><tspan x="196.47" textLength="18.91" lengthAdjust="spacingAndGlyphs">1</tspan><tspan x="214.76" font-size="40.00" textLength="15.26" lengthAdjust="spacingAndGlyphs">°</tspan></text>
<text y="342.8" font-size="41.30" fill="#fff"><tspan x="108.52" textLength="9.07" lengthAdjust="spacingAndGlyphs">I</tspan><tspan x="117.62" textLength="9.07" lengthAdjust="spacingAndGlyphs">I</tspan><tspan x="126.72" textLength="9.07" lengthAdjust="spacingAndGlyphs">I</tspan></text>
<text y="339.9" font-size="41.59" fill="#fff"><tspan x="196.69" textLength="16.62" lengthAdjust="spacingAndGlyphs">4</tspan><tspan x="214.76" font-size="40.00" textLength="15.26" lengthAdjust="spacingAndGlyphs">°</tspan></text>
<text y="412.9" font-size="41.30" fill="#fff"><tspan x="113.92" textLength="9.07" lengthAdjust="spacingAndGlyphs">I</tspan><tspan x="123.02" textLength="9.07" lengthAdjust="spacingAndGlyphs">I</tspan></text>
<text y="412.9" font-size="41.59" fill="#fff"><tspan x="196.69" textLength="16.62" lengthAdjust="spacingAndGlyphs">4</tspan><tspan x="214.76" font-size="40.00" textLength="15.26" lengthAdjust="spacingAndGlyphs">°</tspan></text>
<text y="483.1" font-size="41.30" fill="#fff"><tspan x="108.52" textLength="9.07" lengthAdjust="spacingAndGlyphs">I</tspan><tspan x="117.62" textLength="9.07" lengthAdjust="spacingAndGlyphs">I</tspan><tspan x="126.72" textLength="9.07" lengthAdjust="spacingAndGlyphs">I</tspan></text>
<text y="483.3" font-size="41.59" fill="#fff"><tspan x="197.05" textLength="16.26" lengthAdjust="spacingAndGlyphs">3</tspan><tspan x="214.76" font-size="40.00" textLength="15.26" lengthAdjust="spacingAndGlyphs">°</tspan></text>
<text y="553.5" font-size="41.30" fill="#fff"><tspan x="113.92" textLength="9.07" lengthAdjust="spacingAndGlyphs">I</tspan><tspan x="123.02" textLength="9.07" lengthAdjust="spacingAndGlyphs">I</tspan></text>
<text y="551.2" font-size="41.59" fill="#fff"><tspan x="197.05" textLength="16.26" lengthAdjust="spacingAndGlyphs">3</tspan><tspan x="214.76" font-size="40.00" textLength="15.26" lengthAdjust="spacingAndGlyphs">°</tspan></text>
<text y="623.5" font-size="41.30" fill="#fff"><tspan x="108.52" textLength="9.07" lengthAdjust="spacingAndGlyphs">I</tspan><tspan x="117.62" textLength="9.07" lengthAdjust="spacingAndGlyphs">I</tspan><tspan x="126.72" textLength="9.07" lengthAdjust="spacingAndGlyphs">I</tspan></text>
<text y="618.8" font-size="41.59" fill="#fff"><tspan x="196.64" textLength="17.69" lengthAdjust="spacingAndGlyphs">2</tspan><tspan x="214.76" font-size="40.00" textLength="15.26" lengthAdjust="spacingAndGlyphs">°</tspan></text>
<text y="694.0" font-size="41.30" fill="#fff"><tspan x="113.92" textLength="9.07" lengthAdjust="spacingAndGlyphs">I</tspan><tspan x="123.02" textLength="9.07" lengthAdjust="spacingAndGlyphs">I</tspan></text>
<text y="689.1" font-size="41.59" fill="#fff"><tspan x="196.64" textLength="17.69" lengthAdjust="spacingAndGlyphs">2</tspan><tspan x="214.76" font-size="40.00" textLength="15.26" lengthAdjust="spacingAndGlyphs">°</tspan></text>
<text y="763.9" font-size="41.30" fill="#fff"><tspan x="108.52" textLength="9.07" lengthAdjust="spacingAndGlyphs">I</tspan><tspan x="117.62" textLength="9.07" lengthAdjust="spacingAndGlyphs">I</tspan><tspan x="126.72" textLength="9.07" lengthAdjust="spacingAndGlyphs">I</tspan></text>
<text y="759.1" font-size="41.59" fill="#fff"><tspan x="196.47" textLength="18.91" lengthAdjust="spacingAndGlyphs">1</tspan><tspan x="214.76" font-size="40.00" textLength="15.26" lengthAdjust="spacingAndGlyphs">°</tspan></text>
<text y="834.5" font-size="41.30" fill="#fff"><tspan x="113.92" textLength="9.07" lengthAdjust="spacingAndGlyphs">I</tspan><tspan x="123.02" textLength="9.07" lengthAdjust="spacingAndGlyphs">I</tspan></text>
<text y="829.1" font-size="41.59" fill="#fff"><tspan x="196.47" textLength="18.91" lengthAdjust="spacingAndGlyphs">1</tspan><tspan x="214.76" font-size="40.00" textLength="15.26" lengthAdjust="spacingAndGlyphs">°</tspan></text>
<text y="904.6" font-size="41.30" fill="#fff"><tspan x="118.82" textLength="9.07" lengthAdjust="spacingAndGlyphs">I</tspan></text>
<text y="904.6" font-size="41.59" fill="#fff"><tspan x="196.69" textLength="16.62" lengthAdjust="spacingAndGlyphs">4</tspan><tspan x="214.76" font-size="40.00" textLength="15.26" lengthAdjust="spacingAndGlyphs">°</tspan></text>
<text y="974.9" font-size="41.30" fill="#fff"><tspan x="118.82" textLength="9.07" lengthAdjust="spacingAndGlyphs">I</tspan></text>
<text y="974.8" font-size="41.59" fill="#fff"><tspan x="197.05" textLength="16.26" lengthAdjust="spacingAndGlyphs">3</tspan><tspan x="214.76" font-size="40.00" textLength="15.26" lengthAdjust="spacingAndGlyphs">°</tspan></text>
<text y="1045.1" font-size="41.30" fill="#fff"><tspan x="118.82" textLength="9.07" lengthAdjust="spacingAndGlyphs">I</tspan></text>
<text y="1045.1" font-size="41.59" fill="#fff"><tspan x="196.64" textLength="17.69" lengthAdjust="spacingAndGlyphs">2</tspan><tspan x="214.76" font-size="40.00" textLength="15.26" lengthAdjust="spacingAndGlyphs">°</tspan></text>
<text y="1115.1" font-size="41.30" fill="#fff"><tspan x="118.82" textLength="9.07" lengthAdjust="spacingAndGlyphs">I</tspan></text>
<text y="1115.1" font-size="41.59" fill="#fff"><tspan x="196.47" textLength="18.91" lengthAdjust="spacingAndGlyphs">1</tspan><tspan x="214.76" font-size="40.00" textLength="15.26" lengthAdjust="spacingAndGlyphs">°</tspan></text>
<text y="54.30" font-size="35.94" fill="#1d1d1b" stroke="#1d1d1b" stroke-width="1.4" stroke-linejoin="round"><tspan x="831.85" textLength="16.27" lengthAdjust="spacingAndGlyphs">4</tspan><tspan x="848.88" textLength="16.27" lengthAdjust="spacingAndGlyphs">0</tspan><tspan x="866.42" textLength="8.13" lengthAdjust="spacingAndGlyphs">,</tspan><tspan x="875.82" textLength="16.27" lengthAdjust="spacingAndGlyphs">0</tspan><tspan x="892.84" textLength="16.27" lengthAdjust="spacingAndGlyphs">0</tspan></text>
<text y="54.25" font-size="26.38" fill="#58585a" stroke="#58585a" stroke-width="1.5" stroke-linejoin="round"><tspan x="925.64" font-size="26.38" textLength="11.96" lengthAdjust="spacingAndGlyphs">K</tspan><tspan x="939.05" font-size="23.17" textLength="18.49" lengthAdjust="spacingAndGlyphs">m</tspan><tspan x="958.77" dy="1.1" font-size="28.80" font-weight="normal" stroke-width="0.5" textLength="8.55" lengthAdjust="spacingAndGlyphs">/</tspan><tspan x="968.42" dy="-1.1" font-size="25.62" textLength="12.95" lengthAdjust="spacingAndGlyphs">h</tspan></text>
<text y="122.10" font-size="35.94" fill="#1d1d1b" stroke="#1d1d1b" stroke-width="1.4" stroke-linejoin="round"><tspan x="732.28" textLength="16.27" lengthAdjust="spacingAndGlyphs">2</tspan><tspan x="749.19" textLength="16.27" lengthAdjust="spacingAndGlyphs">7</tspan><tspan x="766.63" textLength="8.13" lengthAdjust="spacingAndGlyphs">,</tspan><tspan x="775.94" textLength="16.27" lengthAdjust="spacingAndGlyphs">6</tspan><tspan x="792.84" textLength="16.27" lengthAdjust="spacingAndGlyphs">0</tspan></text>
<text y="122.05" font-size="26.38" fill="#58585a" stroke="#58585a" stroke-width="1.5" stroke-linejoin="round"><tspan x="827.99" font-size="26.38" textLength="11.48" lengthAdjust="spacingAndGlyphs">K</tspan><tspan x="840.92" font-size="23.17" textLength="17.79" lengthAdjust="spacingAndGlyphs">m</tspan><tspan x="859.95" dy="1.1" font-size="28.80" font-weight="normal" stroke-width="0.5" textLength="8.24" lengthAdjust="spacingAndGlyphs">/</tspan><tspan x="869.28" dy="-1.1" font-size="25.62" textLength="12.43" lengthAdjust="spacingAndGlyphs">h</tspan></text>
<text y="193.50" font-size="35.94" fill="#1d1d1b" stroke="#1d1d1b" stroke-width="1.4" stroke-linejoin="round"><tspan x="631.25" textLength="16.27" lengthAdjust="spacingAndGlyphs">1</tspan><tspan x="648.36" textLength="16.27" lengthAdjust="spacingAndGlyphs">9</tspan><tspan x="665.97" textLength="8.13" lengthAdjust="spacingAndGlyphs">,</tspan><tspan x="675.43" textLength="16.27" lengthAdjust="spacingAndGlyphs">2</tspan><tspan x="692.54" textLength="16.27" lengthAdjust="spacingAndGlyphs">0</tspan></text>
<text y="193.45" font-size="26.38" fill="#58585a" stroke="#58585a" stroke-width="1.5" stroke-linejoin="round"><tspan x="726.28" font-size="26.38" textLength="11.56" lengthAdjust="spacingAndGlyphs">K</tspan><tspan x="739.29" font-size="23.17" textLength="17.90" lengthAdjust="spacingAndGlyphs">m</tspan><tspan x="758.43" dy="1.1" font-size="28.80" font-weight="normal" stroke-width="0.5" textLength="8.29" lengthAdjust="spacingAndGlyphs">/</tspan><tspan x="767.81" dy="-1.1" font-size="25.62" textLength="12.51" lengthAdjust="spacingAndGlyphs">h</tspan></text>
<text y="263.50" font-size="35.94" fill="#1d1d1b" stroke="#1d1d1b" stroke-width="1.4" stroke-linejoin="round"><tspan x="594.45" textLength="16.27" lengthAdjust="spacingAndGlyphs">1</tspan><tspan x="611.56" textLength="16.27" lengthAdjust="spacingAndGlyphs">3</tspan><tspan x="629.17" textLength="8.13" lengthAdjust="spacingAndGlyphs">,</tspan><tspan x="638.63" textLength="16.27" lengthAdjust="spacingAndGlyphs">2</tspan><tspan x="655.74" textLength="16.27" lengthAdjust="spacingAndGlyphs">0</tspan></text>
<text y="263.45" font-size="26.38" fill="#58585a" stroke="#58585a" stroke-width="1.5" stroke-linejoin="round"><tspan x="690.48" font-size="26.38" textLength="11.56" lengthAdjust="spacingAndGlyphs">K</tspan><tspan x="703.49" font-size="23.17" textLength="17.90" lengthAdjust="spacingAndGlyphs">m</tspan><tspan x="722.63" dy="1.1" font-size="28.80" font-weight="normal" stroke-width="0.5" textLength="8.29" lengthAdjust="spacingAndGlyphs">/</tspan><tspan x="732.01" dy="-1.1" font-size="25.62" textLength="12.51" lengthAdjust="spacingAndGlyphs">h</tspan></text>
<text y="332.30" font-size="35.94" fill="#1d1d1b" stroke="#1d1d1b" stroke-width="1.4" stroke-linejoin="round"><tspan x="560.65" textLength="16.27" lengthAdjust="spacingAndGlyphs">1</tspan><tspan x="577.79" textLength="16.27" lengthAdjust="spacingAndGlyphs">1</tspan><tspan x="595.42" textLength="8.13" lengthAdjust="spacingAndGlyphs">,</tspan><tspan x="604.90" textLength="16.27" lengthAdjust="spacingAndGlyphs">9</tspan><tspan x="622.04" textLength="16.27" lengthAdjust="spacingAndGlyphs">0</tspan></text>
<text y="332.25" font-size="26.38" fill="#58585a" stroke="#58585a" stroke-width="1.5" stroke-linejoin="round"><tspan x="656.08" font-size="26.38" textLength="11.53" lengthAdjust="spacingAndGlyphs">K</tspan><tspan x="669.07" font-size="23.17" textLength="17.87" lengthAdjust="spacingAndGlyphs">m</tspan><tspan x="688.17" dy="1.1" font-size="28.80" font-weight="normal" stroke-width="0.5" textLength="8.27" lengthAdjust="spacingAndGlyphs">/</tspan><tspan x="697.54" dy="-1.1" font-size="25.62" textLength="12.49" lengthAdjust="spacingAndGlyphs">h</tspan></text>
<text y="401.60" font-size="35.94" fill="#1d1d1b" stroke="#1d1d1b" stroke-width="1.4" stroke-linejoin="round"><tspan x="542.58" textLength="16.27" lengthAdjust="spacingAndGlyphs">9</tspan><tspan x="559.99" textLength="8.13" lengthAdjust="spacingAndGlyphs">,</tspan><tspan x="569.27" textLength="16.27" lengthAdjust="spacingAndGlyphs">5</tspan><tspan x="586.14" textLength="16.27" lengthAdjust="spacingAndGlyphs">0</tspan></text>
<text y="401.55" font-size="26.38" fill="#58585a" stroke="#58585a" stroke-width="1.5" stroke-linejoin="round"><tspan x="619.09" font-size="26.38" textLength="11.41" lengthAdjust="spacingAndGlyphs">K</tspan><tspan x="631.96" font-size="23.17" textLength="17.68" lengthAdjust="spacingAndGlyphs">m</tspan><tspan x="650.87" dy="1.1" font-size="28.80" font-weight="normal" stroke-width="0.5" textLength="8.19" lengthAdjust="spacingAndGlyphs">/</tspan><tspan x="660.16" dy="-1.1" font-size="25.62" textLength="12.35" lengthAdjust="spacingAndGlyphs">h</tspan></text>
<text y="472.80" font-size="35.94" fill="#1d1d1b" stroke="#1d1d1b" stroke-width="1.4" stroke-linejoin="round"><tspan x="509.36" textLength="16.27" lengthAdjust="spacingAndGlyphs">8</tspan><tspan x="526.99" textLength="8.13" lengthAdjust="spacingAndGlyphs">,</tspan><tspan x="536.49" textLength="16.27" lengthAdjust="spacingAndGlyphs">1</tspan><tspan x="553.64" textLength="16.27" lengthAdjust="spacingAndGlyphs">0</tspan></text>
<text y="472.75" font-size="26.38" fill="#58585a" stroke="#58585a" stroke-width="1.5" stroke-linejoin="round"><tspan x="586.48" font-size="26.38" textLength="11.53" lengthAdjust="spacingAndGlyphs">K</tspan><tspan x="599.47" font-size="23.17" textLength="17.87" lengthAdjust="spacingAndGlyphs">m</tspan><tspan x="618.57" dy="1.1" font-size="28.80" font-weight="normal" stroke-width="0.5" textLength="8.27" lengthAdjust="spacingAndGlyphs">/</tspan><tspan x="627.94" dy="-1.1" font-size="25.62" textLength="12.49" lengthAdjust="spacingAndGlyphs">h</tspan></text>
<text y="543.50" font-size="35.94" fill="#1d1d1b" stroke="#1d1d1b" stroke-width="1.4" stroke-linejoin="round"><tspan x="480.62" textLength="16.27" lengthAdjust="spacingAndGlyphs">6</tspan><tspan x="498.06" textLength="8.13" lengthAdjust="spacingAndGlyphs">,</tspan><tspan x="507.35" textLength="16.27" lengthAdjust="spacingAndGlyphs">7</tspan><tspan x="524.24" textLength="16.27" lengthAdjust="spacingAndGlyphs">0</tspan></text>
<text y="543.45" font-size="26.38" fill="#58585a" stroke="#58585a" stroke-width="1.5" stroke-linejoin="round"><tspan x="557.08" font-size="26.38" textLength="11.58" lengthAdjust="spacingAndGlyphs">K</tspan><tspan x="570.11" font-size="23.17" textLength="17.94" lengthAdjust="spacingAndGlyphs">m</tspan><tspan x="589.28" dy="1.1" font-size="28.80" font-weight="normal" stroke-width="0.5" textLength="8.31" lengthAdjust="spacingAndGlyphs">/</tspan><tspan x="598.69" dy="-1.1" font-size="25.62" textLength="12.54" lengthAdjust="spacingAndGlyphs">h</tspan></text>
<text y="614.20" font-size="35.94" fill="#1d1d1b" stroke="#1d1d1b" stroke-width="1.4" stroke-linejoin="round"><tspan x="438.24" textLength="16.27" lengthAdjust="spacingAndGlyphs">5</tspan><tspan x="455.70" textLength="8.13" lengthAdjust="spacingAndGlyphs">,</tspan><tspan x="465.02" textLength="16.27" lengthAdjust="spacingAndGlyphs">8</tspan><tspan x="481.94" textLength="16.27" lengthAdjust="spacingAndGlyphs">0</tspan></text>
<text y="614.15" font-size="26.38" fill="#58585a" stroke="#58585a" stroke-width="1.5" stroke-linejoin="round"><tspan x="514.17" font-size="26.38" textLength="11.68" lengthAdjust="spacingAndGlyphs">K</tspan><tspan x="527.30" font-size="23.17" textLength="18.09" lengthAdjust="spacingAndGlyphs">m</tspan><tspan x="546.62" dy="1.1" font-size="28.80" font-weight="normal" stroke-width="0.5" textLength="8.37" lengthAdjust="spacingAndGlyphs">/</tspan><tspan x="556.09" dy="-1.1" font-size="25.62" textLength="12.65" lengthAdjust="spacingAndGlyphs">h</tspan></text>
<text y="686.30" font-size="35.94" fill="#1d1d1b" stroke="#1d1d1b" stroke-width="1.4" stroke-linejoin="round"><tspan x="400.05" textLength="16.27" lengthAdjust="spacingAndGlyphs">4</tspan><tspan x="417.39" textLength="8.13" lengthAdjust="spacingAndGlyphs">,</tspan><tspan x="426.58" textLength="16.27" lengthAdjust="spacingAndGlyphs">7</tspan><tspan x="443.34" textLength="16.27" lengthAdjust="spacingAndGlyphs">0</tspan></text>
<text y="686.25" font-size="26.38" fill="#58585a" stroke="#58585a" stroke-width="1.5" stroke-linejoin="round"><tspan x="475.67" font-size="26.38" textLength="11.71" lengthAdjust="spacingAndGlyphs">K</tspan><tspan x="488.82" font-size="23.17" textLength="18.12" lengthAdjust="spacingAndGlyphs">m</tspan><tspan x="508.18" dy="1.1" font-size="28.80" font-weight="normal" stroke-width="0.5" textLength="8.39" lengthAdjust="spacingAndGlyphs">/</tspan><tspan x="517.66" dy="-1.1" font-size="25.62" textLength="12.68" lengthAdjust="spacingAndGlyphs">h</tspan></text>
<text y="755.20" font-size="35.94" fill="#1d1d1b" stroke="#1d1d1b" stroke-width="1.4" stroke-linejoin="round"><tspan x="378.40" textLength="16.27" lengthAdjust="spacingAndGlyphs">3</tspan><tspan x="395.93" textLength="8.13" lengthAdjust="spacingAndGlyphs">,</tspan><tspan x="405.32" textLength="16.27" lengthAdjust="spacingAndGlyphs">8</tspan><tspan x="422.34" textLength="16.27" lengthAdjust="spacingAndGlyphs">0</tspan></text>
<text y="755.15" font-size="26.38" fill="#58585a" stroke="#58585a" stroke-width="1.5" stroke-linejoin="round"><tspan x="454.58" font-size="26.38" textLength="11.51" lengthAdjust="spacingAndGlyphs">K</tspan><tspan x="467.55" font-size="23.17" textLength="17.83" lengthAdjust="spacingAndGlyphs">m</tspan><tspan x="486.61" dy="1.1" font-size="28.80" font-weight="normal" stroke-width="0.5" textLength="8.26" lengthAdjust="spacingAndGlyphs">/</tspan><tspan x="495.96" dy="-1.1" font-size="25.62" textLength="12.46" lengthAdjust="spacingAndGlyphs">h</tspan></text>
<text y="826.40" font-size="35.94" fill="#1d1d1b" stroke="#1d1d1b" stroke-width="1.4" stroke-linejoin="round"><tspan x="353.10" textLength="16.27" lengthAdjust="spacingAndGlyphs">3</tspan><tspan x="370.48" textLength="8.13" lengthAdjust="spacingAndGlyphs">,</tspan><tspan x="379.72" textLength="16.27" lengthAdjust="spacingAndGlyphs">2</tspan><tspan x="396.54" textLength="16.27" lengthAdjust="spacingAndGlyphs">0</tspan></text>
<text y="826.35" font-size="26.38" fill="#58585a" stroke="#58585a" stroke-width="1.5" stroke-linejoin="round"><tspan x="430.00" font-size="26.38" textLength="11.38" lengthAdjust="spacingAndGlyphs">K</tspan><tspan x="442.83" font-size="23.17" textLength="17.64" lengthAdjust="spacingAndGlyphs">m</tspan><tspan x="461.71" dy="1.1" font-size="28.80" font-weight="normal" stroke-width="0.5" textLength="8.17" lengthAdjust="spacingAndGlyphs">/</tspan><tspan x="470.98" dy="-1.1" font-size="25.62" textLength="12.32" lengthAdjust="spacingAndGlyphs">h</tspan></text>
<text y="894.70" font-size="35.94" fill="#1d1d1b" stroke="#1d1d1b" stroke-width="1.4" stroke-linejoin="round"><tspan x="344.18" textLength="16.27" lengthAdjust="spacingAndGlyphs">2</tspan><tspan x="361.81" textLength="8.13" lengthAdjust="spacingAndGlyphs">,</tspan><tspan x="371.30" textLength="16.27" lengthAdjust="spacingAndGlyphs">3</tspan><tspan x="388.44" textLength="16.27" lengthAdjust="spacingAndGlyphs">0</tspan></text>
<text y="894.65" font-size="26.38" fill="#58585a" stroke="#58585a" stroke-width="1.5" stroke-linejoin="round"><tspan x="421.18" font-size="26.38" textLength="11.51" lengthAdjust="spacingAndGlyphs">K</tspan><tspan x="434.15" font-size="23.17" textLength="17.83" lengthAdjust="spacingAndGlyphs">m</tspan><tspan x="453.21" dy="1.1" font-size="28.80" font-weight="normal" stroke-width="0.5" textLength="8.26" lengthAdjust="spacingAndGlyphs">/</tspan><tspan x="462.56" dy="-1.1" font-size="25.62" textLength="12.46" lengthAdjust="spacingAndGlyphs">h</tspan></text>
<text y="967.60" font-size="35.94" fill="#1d1d1b" stroke="#1d1d1b" stroke-width="1.4" stroke-linejoin="round"><tspan x="334.55" textLength="16.27" lengthAdjust="spacingAndGlyphs">1</tspan><tspan x="352.38" textLength="8.13" lengthAdjust="spacingAndGlyphs">,</tspan><tspan x="362.06" textLength="16.27" lengthAdjust="spacingAndGlyphs">6</tspan><tspan x="379.44" textLength="16.27" lengthAdjust="spacingAndGlyphs">0</tspan></text>
<text y="967.55" font-size="26.38" fill="#58585a" stroke="#58585a" stroke-width="1.5" stroke-linejoin="round"><tspan x="412.08" font-size="26.38" textLength="11.58" lengthAdjust="spacingAndGlyphs">K</tspan><tspan x="425.11" font-size="23.17" textLength="17.94" lengthAdjust="spacingAndGlyphs">m</tspan><tspan x="444.28" dy="1.1" font-size="28.80" font-weight="normal" stroke-width="0.5" textLength="8.31" lengthAdjust="spacingAndGlyphs">/</tspan><tspan x="453.69" dy="-1.1" font-size="25.62" textLength="12.54" lengthAdjust="spacingAndGlyphs">h</tspan></text>
<text y="1040.00" font-size="35.94" fill="#1d1d1b" stroke="#1d1d1b" stroke-width="1.4" stroke-linejoin="round"><tspan x="332.15" textLength="16.27" lengthAdjust="spacingAndGlyphs">1</tspan><tspan x="349.98" textLength="8.13" lengthAdjust="spacingAndGlyphs">,</tspan><tspan x="359.66" textLength="16.27" lengthAdjust="spacingAndGlyphs">0</tspan><tspan x="377.04" textLength="16.27" lengthAdjust="spacingAndGlyphs">0</tspan></text>
<text y="1039.95" font-size="26.38" fill="#58585a" stroke="#58585a" stroke-width="1.5" stroke-linejoin="round"><tspan x="409.18" font-size="26.38" textLength="11.53" lengthAdjust="spacingAndGlyphs">K</tspan><tspan x="422.17" font-size="23.17" textLength="17.87" lengthAdjust="spacingAndGlyphs">m</tspan><tspan x="441.27" dy="1.1" font-size="28.80" font-weight="normal" stroke-width="0.5" textLength="8.27" lengthAdjust="spacingAndGlyphs">/</tspan><tspan x="450.64" dy="-1.1" font-size="25.62" textLength="12.49" lengthAdjust="spacingAndGlyphs">h</tspan></text>
<text y="1105.90" font-size="35.94" fill="#1d1d1b" stroke="#1d1d1b" stroke-width="1.4" stroke-linejoin="round"><tspan x="332.54" textLength="16.27" lengthAdjust="spacingAndGlyphs">0</tspan><tspan x="350.25" textLength="8.13" lengthAdjust="spacingAndGlyphs">,</tspan><tspan x="359.81" textLength="16.27" lengthAdjust="spacingAndGlyphs">7</tspan><tspan x="377.04" textLength="16.27" lengthAdjust="spacingAndGlyphs">0</tspan></text>
<text y="1105.85" font-size="26.38" fill="#58585a" stroke="#58585a" stroke-width="1.5" stroke-linejoin="round"><tspan x="409.18" font-size="26.38" textLength="11.53" lengthAdjust="spacingAndGlyphs">K</tspan><tspan x="422.17" font-size="23.17" textLength="17.87" lengthAdjust="spacingAndGlyphs">m</tspan><tspan x="441.27" dy="1.1" font-size="28.80" font-weight="normal" stroke-width="0.5" textLength="8.27" lengthAdjust="spacingAndGlyphs">/</tspan><tspan x="450.64" dy="-1.1" font-size="25.62" textLength="12.49" lengthAdjust="spacingAndGlyphs">h</tspan></text>
<rect x="196.72" y="263.13" width="7.37" height="8.32" fill="url(#gGreen)"/>
<rect x="209.38" y="263.13" width="6.90" height="8.32" fill="url(#gGreen)"/>
<rect x="196.72" y="752.43" width="7.37" height="8.32" fill="url(#gGreen)"/>
<rect x="209.38" y="752.43" width="6.90" height="8.32" fill="url(#gGreen)"/>
<rect x="196.72" y="822.43" width="7.37" height="8.32" fill="url(#gGreen)"/>
<rect x="209.38" y="822.43" width="6.90" height="8.32" fill="url(#gGreen)"/>
<rect x="196.72" y="1108.43" width="7.37" height="8.32" fill="url(#gGreen)"/>
<rect x="209.38" y="1108.43" width="6.90" height="8.32" fill="url(#gGreen)"/>
<rect x="631.01" y="188.05" width="6.50" height="8.05" fill="#fff"/>
<rect x="642.65" y="188.05" width="6.09" height="8.05" fill="#fff"/>
<rect x="594.21" y="258.05" width="6.50" height="8.05" fill="#fff"/>
<rect x="605.85" y="258.05" width="6.09" height="8.05" fill="#fff"/>
<rect x="560.41" y="326.85" width="6.50" height="8.05" fill="#fff"/>
<rect x="572.05" y="326.85" width="6.09" height="8.05" fill="#fff"/>
<rect x="577.55" y="326.85" width="6.50" height="8.05" fill="#fff"/>
<rect x="589.19" y="326.85" width="6.09" height="8.05" fill="#fff"/>
<rect x="536.25" y="467.35" width="6.50" height="8.05" fill="#fff"/>
<rect x="547.89" y="467.35" width="6.09" height="8.05" fill="#fff"/>
<rect x="334.31" y="962.15" width="6.50" height="8.05" fill="#fff"/>
<rect x="345.95" y="962.15" width="6.09" height="8.05" fill="#fff"/>
<rect x="331.91" y="1034.55" width="6.50" height="8.05" fill="#fff"/>
<rect x="343.55" y="1034.55" width="6.09" height="8.05" fill="#fff"/>
</svg></body></html>
